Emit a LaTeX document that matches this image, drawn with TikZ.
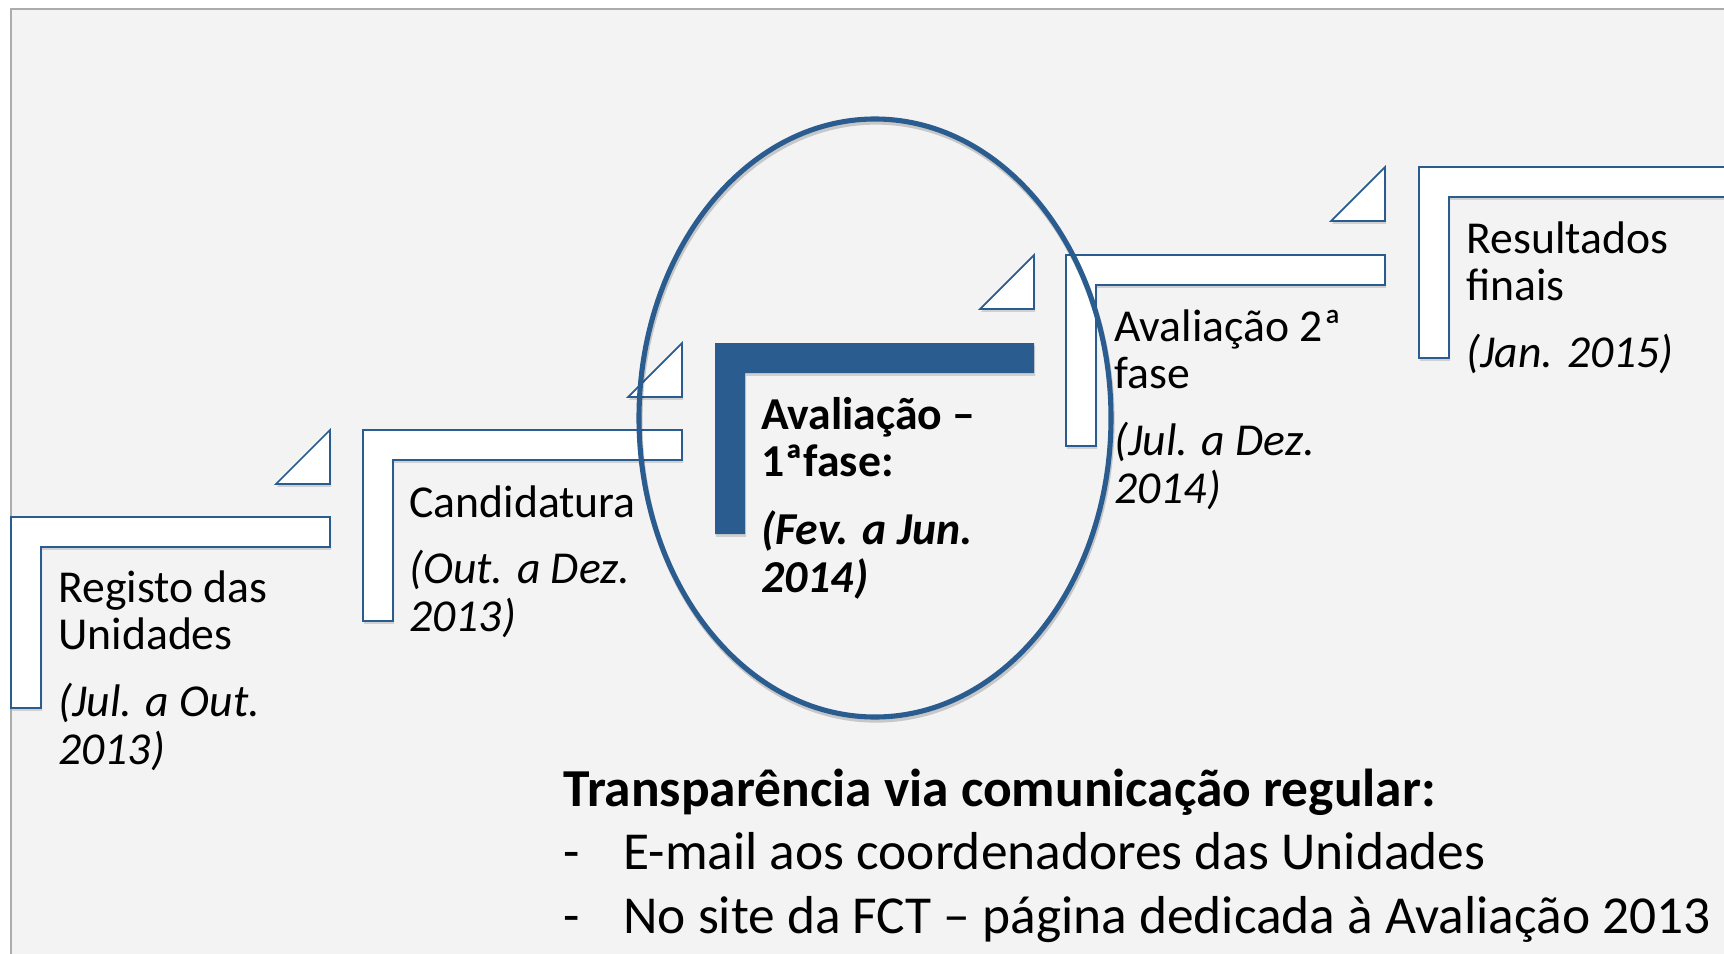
\documentclass[tikz,border=0pt]{standalone}
\usepackage{fontspec}
\setmainfont{Carlito}
\usepackage{tikz}
\usetikzlibrary{shadows}
\definecolor{fctblue}{HTML}{2A5C8F}
\definecolor{fundo}{HTML}{F3F3F3}

\begin{document}
\begin{tikzpicture}[
  stepbox/.style={draw=fctblue, line width=1pt, fill=white,
    drop shadow={shadow xshift=0.6pt, shadow yshift=-1.6pt, opacity=0.3}},
  lbl/.style={anchor=base west, inner sep=0pt,
    font=\fontsize{26}{27.3}\selectfont},
  nota/.style={anchor=base west, inner sep=0pt,
    font=\fontsize{30.4}{37}\selectfont}
]
\useasboundingbox (0cm,0cm) rectangle (34.48cm,-19.08cm);
\clip (0cm,0cm) rectangle (34.48cm,-19.08cm);
\fill[white] (0cm,0cm) rectangle (34.48cm,-19.08cm);
\draw[gray!65, line width=0.8pt, fill=fundo] (0.22cm,-0.18cm) rectangle (36cm,-21cm);

% degraus
\draw[stepbox] (0.22cm,-10.34cm) -- (6.6cm,-10.34cm) -- (6.6cm,-10.94cm) -- (0.82cm,-10.94cm) -- (0.82cm,-14.16cm) -- (0.22cm,-14.16cm) -- cycle;
\draw[stepbox] (7.26cm,-8.6cm) -- (13.64cm,-8.6cm) -- (13.64cm,-9.2cm) -- (7.86cm,-9.2cm) -- (7.86cm,-12.42cm) -- (7.26cm,-12.42cm) -- cycle;
\fill[fctblue, drop shadow={shadow xshift=0.6pt, shadow yshift=-1.6pt, opacity=0.3}] (14.3cm,-6.86cm) -- (20.68cm,-6.86cm) -- (20.68cm,-7.46cm) -- (14.9cm,-7.46cm) -- (14.9cm,-10.68cm) -- (14.3cm,-10.68cm) -- cycle;
\draw[stepbox] (21.32cm,-5.1cm) -- (27.7cm,-5.1cm) -- (27.7cm,-5.7cm) -- (21.92cm,-5.7cm) -- (21.92cm,-8.92cm) -- (21.32cm,-8.92cm) -- cycle;
\draw[stepbox] (28.38cm,-3.34cm) -- (34.76cm,-3.34cm) -- (34.76cm,-3.94cm) -- (28.98cm,-3.94cm) -- (28.98cm,-7.16cm) -- (28.38cm,-7.16cm) -- cycle;

% triangulos
\draw[stepbox] (5.52cm,-9.68cm) -- (6.6cm,-8.6cm) -- (6.6cm,-9.68cm) -- cycle;
\draw[stepbox] (12.56cm,-7.94cm) -- (13.64cm,-6.86cm) -- (13.64cm,-7.94cm) -- cycle;
\draw[stepbox] (19.6cm,-6.18cm) -- (20.68cm,-5.1cm) -- (20.68cm,-6.18cm) -- cycle;
\draw[stepbox] (26.62cm,-4.42cm) -- (27.7cm,-3.34cm) -- (27.7cm,-4.42cm) -- cycle;

\draw[black, opacity=0.18, line width=3pt] (17.52cm,-8.42cm) ellipse (4.72cm and 5.98cm);
\draw[fctblue, line width=2.9pt] (17.5cm,-8.36cm) ellipse (4.72cm and 5.98cm);

\node[lbl] (1) at (1.16cm,-12.04cm) {\begin{tabular}[t]{@{}l@{}}Registo das\\Unidades\\[0.38cm]\textit{(Jul. a Out.}\\\textit{2013)}\end{tabular}};
\node[lbl] (2) at (8.18cm,-10.34cm) {\begin{tabular}[t]{@{}l@{}}Candidatura\\[0.38cm]\textit{(Out. a Dez.}\\\textit{2013)}\end{tabular}};
\node[lbl] (3) at (15.22cm,-8.58cm) {\begin{tabular}[t]{@{}l@{}}\textbf{Avaliação –}\\\textbf{1ªfase:}\\[0.38cm]\textbf{\textit{(Fev. a Jun.}}\\\textbf{\textit{2014)}}\end{tabular}};
\node[lbl] (4) at (22.28cm,-6.82cm) {\begin{tabular}[t]{@{}l@{}}Avaliação 2ª\\fase\\[0.38cm]\textit{(Jul. a Dez.}\\\textit{2014)}\end{tabular}};
\node[lbl] (5) at (29.32cm,-5.06cm) {\begin{tabular}[t]{@{}l@{}}Resultados\\finais\\[0.38cm]\textit{(Jan. 2015)}\end{tabular}};

\node[nota] (6) at (11.26cm,-16.12cm) {\begin{tabular}[t]{@{}l@{}}\textbf{Transparência via comunicação regular:}\\[-0.04cm]
  \makebox[1.2cm][l]{-}E-mail aos coordenadores das Unidades\\[-0.02cm]
  \makebox[1.2cm][l]{-}No site da FCT – página dedicada à Avaliação 2013\end{tabular}};
\end{tikzpicture}
\end{document}
